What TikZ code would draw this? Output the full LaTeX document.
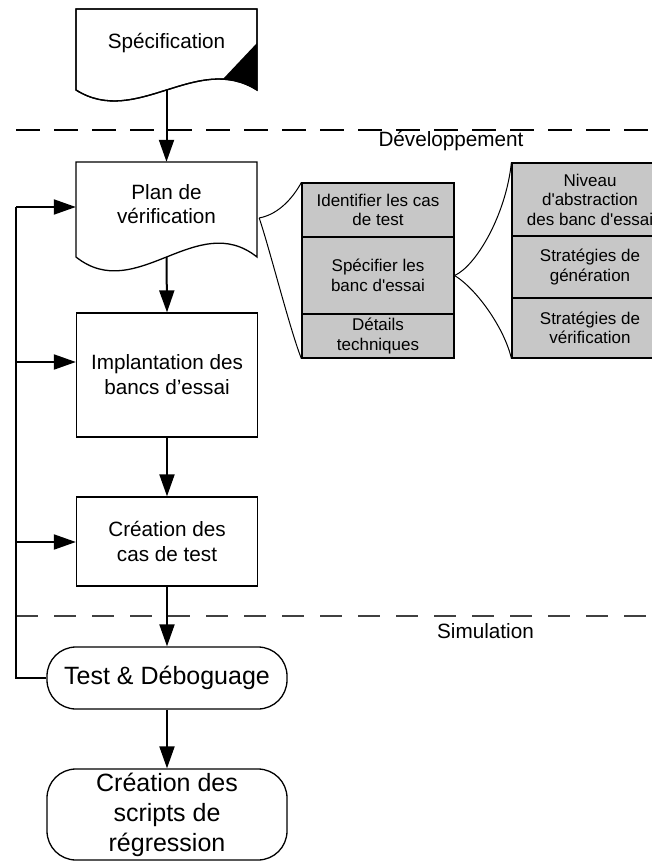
\documentclass[tikz,border=0pt]{standalone}
\usepackage{fontspec}
\setmainfont{Liberation Sans}
\newfontfamily\plainsans{Liberation Sans}
\usetikzlibrary{arrows.meta,calc}
\begin{document}
\begin{tikzpicture}[x=1pt,y=-1pt,
  outline/.style={draw=black,line width=1.3pt,fill=white},
  flowbox/.style={outline,rectangle,minimum width=181pt,inner sep=0pt,align=center,
    font=\fontsize{20.7}{25}\selectfont},
  hollow/.style={rectangle,minimum width=181pt,inner sep=0pt},
  lbl/.style={inner sep=0pt,align=center,font=\fontsize{20.7}{24}\selectfont},
  pill/.style={outline,rectangle,rounded corners=29pt,minimum width=240pt,inner sep=0pt,
    align=center,font=\fontsize{25}{30}\selectfont},
  gbox/.style={draw=black,line width=1.2pt,fill=black!22,rectangle,inner sep=0pt,
    align=center,font=\plainsans\fontsize{17}{19.5}\selectfont},
  conn/.style={line width=2pt,draw=black},
  arr/.style={conn,-{Triangle[length=22pt,width=15pt]}},
  callout/.style={line width=1pt,draw=black},
  phase/.style={line width=1.5pt,draw=black,dash pattern=on 24pt off 14pt},
  subphase/.style={line width=1.1pt,draw=black!75,dash pattern=on 22pt off 16pt}]
\useasboundingbox (0,0) rectangle (652,861);
\clip (0,0) rectangle (652,861);

% phase separators
\coordinate (ph1a) at (16,130);
\coordinate (ph1b) at (652,130);
\coordinate (ph2a) at (16,616);
\coordinate (ph2b) at (652,616);
\draw[phase] (ph1a) -- (ph1b);
\draw[subphase] (ph2a) -- (ph2b);
\node[lbl,anchor=base] (dev) at (451,147) {Développement};
\node[lbl,anchor=base] (sim) at (485.5,638) {Simulation};

% specification document with folded corner
\draw[outline] (76,9) -- (257,9) -- (257,90)
  .. controls (196.7,52) and (136.3,128) .. (76,90) -- cycle;
\begin{scope}
  \clip (76,9) -- (257,9) -- (257,90)
    .. controls (196.7,52) and (136.3,128) .. (76,90) -- cycle;
  \fill[black] (223,79) -- (257,43) -- (257,110) -- (223,110) -- cycle;
\end{scope}
\draw[line width=1.3pt] (76,9) -- (257,9) -- (257,90)
  .. controls (196.7,52) and (136.3,128) .. (76,90) -- cycle;
\node[lbl] (spec) at (166.5,43) {Spécification};
\coordinate (spec-b) at (166.5,90);

% verification plan document
\draw[outline] (76,162) -- (257,162) -- (257,257)
  .. controls (196.7,209) and (136.3,305) .. (76,257) -- cycle;
\node[hollow,minimum height=95pt] (plan) at (166.5,209.5) {};
\node[lbl] (plan-t) at (166.5,204) {Plan de\\vérification};

% process boxes
\node[flowbox,minimum height=124pt] (impl) at (167,375) {Implantation des\\bancs d’essai};
\node[flowbox,minimum height=89pt] (cas) at (167,541.5) {Création des\\cas de test};
\node[pill,minimum height=62pt] (test) at (167,678) {Test \& Déboguage};
\node[pill,minimum height=91pt] (regr) at (167,814.5) {Création des\\scripts de\\régression};

% main flow
\draw[arr] (spec-b) -- (plan.north);
\draw[arr] (plan.south) -- (impl.north);
\draw[arr] (impl.south) -- (cas.north);
\draw[arr] (cas.south) -- (test.north);
\draw[arr] (test.south) -- (regr.north);

% feedback loop
\coordinate (fb1) at (16,207);
\coordinate (fb2) at (16,362);
\coordinate (fb3) at (16,542);
\coordinate (fb4) at (16,678);
\draw[conn] (test.west) -- (fb4) -- (fb1);
\draw[arr] (fb1) -- (fb1 -| plan.west);
\draw[arr] (fb2) -- (fb2 -| impl.west);
\draw[arr] (fb3) -- (fb3 -| cas.west);

% detail of the verification plan
\node[gbox,minimum width=152pt,minimum height=54pt] (id1) at (378,210) {Identifier les cas\\de test};
\node[gbox,minimum width=152pt,minimum height=77pt] (id2) at (378,275.5) {Spécifier les\\banc d'essai};
\node[gbox,minimum width=152pt,minimum height=44pt] (id3) at (378,336) {Détails\\techniques};

% detail of the testbench specification
\node[gbox,minimum width=156pt,minimum height=73pt] (r1) at (590,199.5) {Niveau\\d'abstraction\\des banc d'essai};
\node[gbox,minimum width=156pt,minimum height=62pt] (r2) at (590,267) {Stratégies de\\génération};
\node[gbox,minimum width=156pt,minimum height=60pt] (r3) at (590,328) {Stratégies de\\vérification};

% callout brackets
\coordinate (j1) at ($(plan.east)+(2,8.5)$);
\draw[callout] (j1) .. controls (280,214) and (294,196) .. (id1.north west);
\draw[callout] (j1) .. controls (270,250) and (290,330) .. (id3.south west);
\draw[callout] (id2.east) .. controls (476,266) and (506,215) .. (r1.north west);
\draw[callout] (id2.east) .. controls (478,290) and (505,330) .. (r3.south west);
\end{tikzpicture}
\end{document}
